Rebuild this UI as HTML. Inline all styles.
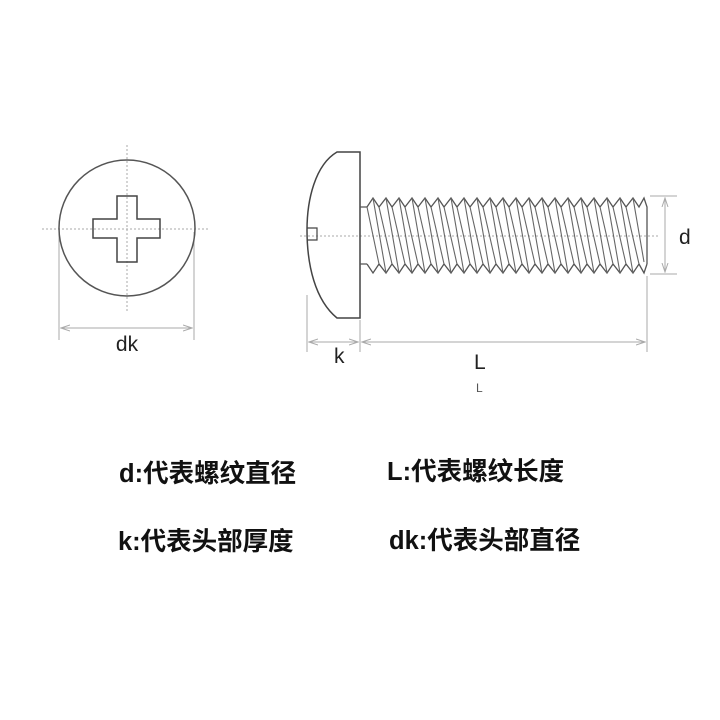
<!DOCTYPE html>
<html><head><meta charset="utf-8"><style>
html,body{margin:0;padding:0;background:#fff;}
svg{display:block}
</style></head><body>
<svg width="720" height="720" viewBox="0 0 720 720" xmlns="http://www.w3.org/2000/svg">
<defs>
<marker id="a" markerWidth="10" markerHeight="8" refX="9" refY="4" orient="auto" markerUnits="userSpaceOnUse"><path d="M0,1 L9,4 L0,7" fill="none" stroke="#aaa" stroke-width="1"/></marker>
</defs>
<g stroke="#aaa" stroke-width="1" fill="none">
<line x1="42" y1="229" x2="208" y2="229" stroke-dasharray="2,2"/>
<line x1="127" y1="145" x2="127" y2="312" stroke-dasharray="2,2"/>
<line x1="59" y1="232" x2="59" y2="340"/>
<line x1="194" y1="232" x2="194" y2="340"/>
<line x1="127" y1="328" x2="61" y2="328" marker-end="url(#a)"/>
<line x1="127" y1="328" x2="192" y2="328" marker-end="url(#a)"/>
</g>
<circle cx="127" cy="228" r="68" fill="none" stroke="#555" stroke-width="1.5"/>
<path d="M117,196 H137 V219 H160 V238 H137 V262 H117 V238 H93 V219 H117 Z" fill="none" stroke="#444" stroke-width="1.5"/>
<text x="127" y="351" font-family="Liberation Sans, sans-serif" font-size="21" text-anchor="middle" fill="#222">dk</text>

<g stroke="#aaa" stroke-width="1" fill="none">
<line x1="300" y1="236" x2="660" y2="236" stroke-dasharray="2,2"/>
<line x1="650" y1="196" x2="677" y2="196"/>
<line x1="650" y1="274" x2="677" y2="274"/>
<line x1="665" y1="236" x2="665" y2="198" marker-end="url(#a)"/>
<line x1="665" y1="236" x2="665" y2="272" marker-end="url(#a)"/>
<line x1="647" y1="276" x2="647" y2="352"/>
<line x1="307" y1="295" x2="307" y2="352"/>
<line x1="360" y1="320" x2="360" y2="352"/>
<line x1="333" y1="342" x2="309" y2="342" marker-end="url(#a)"/>
<line x1="333" y1="342" x2="358" y2="342" marker-end="url(#a)"/>
<line x1="500" y1="342" x2="362" y2="342" marker-end="url(#a)"/>
<line x1="500" y1="342" x2="645" y2="342" marker-end="url(#a)"/>
</g>
<path d="M360,152 H337 C315,165 307,200 307,230 C307,265 315,300 337,318 H360 Z" fill="none" stroke="#444" stroke-width="1.5"/>
<path d="M307,228 H317 V240 H307" fill="none" stroke="#444" stroke-width="1.2"/>
<path d="M360,207 H367 M360,264 H367" stroke="#555" stroke-width="1.2"/>
<g stroke="#555" stroke-width="1.3" fill="none">
<polyline points="367,207 373,198 379,207 386,198 392,207 399,198 405,207 412,198 418,207 425,198 431,207 438,198 444,207 451,198 457,207 464,198 470,207 477,198 483,207 490,198 496,207 503,198 509,207 516,198 522,207 529,198 535,207 542,198 548,207 555,198 561,207 568,198 574,207 581,198 587,207 594,198 600,207 607,198 613,207 620,198 626,207 633,198 639,207 644,198 647,207 647,264"/>
<polyline points="367,264 373,273 379,264 386,273 392,264 399,273 405,264 412,273 418,264 425,273 431,264 438,273 444,264 451,273 457,264 464,273 470,264 477,273 483,264 490,273 496,264 503,273 509,264 516,273 522,264 529,273 535,264 542,273 548,264 555,273 561,264 568,273 574,264 581,273 587,264 594,273 600,264 607,273 613,264 620,273 626,264 633,273 639,264 644,273 647,264"/>
</g>
<g stroke="#666" stroke-width="1.1" fill="none">
<path d="M373,198 L386,273 M386,198 L399,273 M399,198 L412,273 M412,198 L425,273 M425,198 L438,273 M438,198 L451,273 M451,198 L464,273 M464,198 L477,273 M477,198 L490,273 M490,198 L503,273 M503,198 L516,273 M516,198 L529,273 M529,198 L542,273 M542,198 L555,273 M555,198 L568,273 M568,198 L581,273 M581,198 L594,273 M594,198 L607,273 M607,198 L620,273 M620,198 L633,273 M633,198 L644,262"/>
<path d="M367,207 L379,264 M379,207 L392,264 M392,207 L405,264 M405,207 L418,264 M418,207 L431,264 M431,207 L444,264 M444,207 L457,264 M457,207 L470,264 M470,207 L483,264 M483,207 L496,264 M496,207 L509,264 M509,207 L522,264 M522,207 L535,264 M535,207 L548,264 M548,207 L561,264 M561,207 L574,264 M574,207 L587,264 M587,207 L600,264 M600,207 L613,264 M613,207 L626,264 M626,207 L639,264"/>
</g>
<g font-family="Liberation Sans, sans-serif" fill="#222">
<text x="679" y="244" font-size="21">d</text>
<text x="334" y="363" font-size="21">k</text>
<text x="474" y="369" font-size="21">L</text>
<text x="476" y="392" font-size="12" fill="#555">L</text>
</g>
<g font-family="Liberation Sans, 'Noto Sans CJK SC', sans-serif" font-size="25.5" font-weight="bold" fill="#111">
<text x="119" y="482">d:代表螺纹直径</text>
<text x="387" y="480">L:代表螺纹长度</text>
<text x="118" y="550">k:代表头部厚度</text>
<text x="389" y="549">dk:代表头部直径</text>
</g>
</svg>
</body></html>
